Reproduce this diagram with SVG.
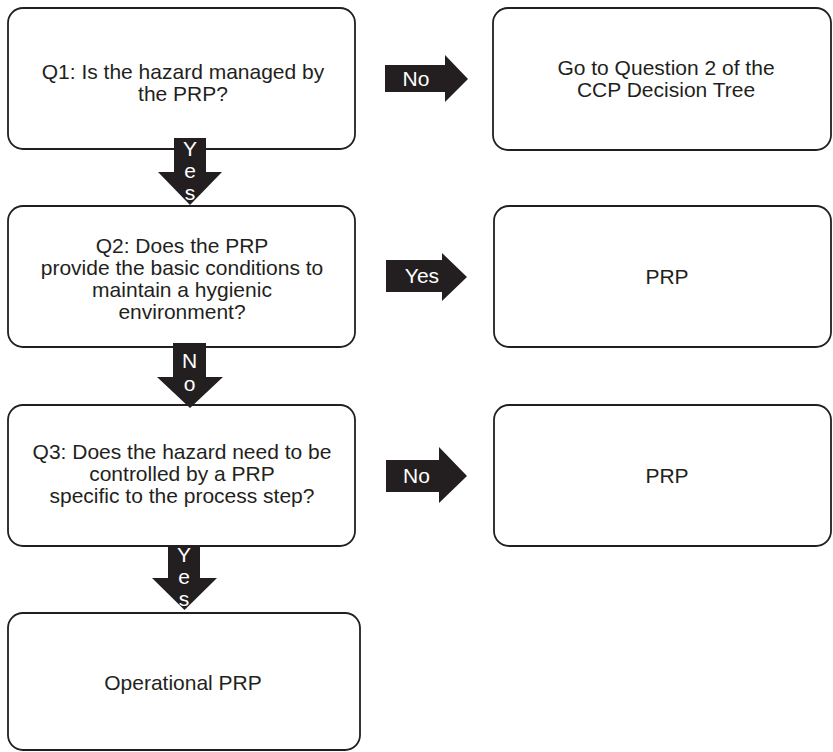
<svg xmlns="http://www.w3.org/2000/svg" width="833" height="752" viewBox="0 0 833 752">
  <style>
    .box { fill: #ffffff; stroke: #231f20; stroke-width: 1.8; }
    .txt { font-family: "Liberation Sans", Arial, sans-serif; font-size: 21px; fill: #231f20; text-anchor: middle; }
    .arrow { fill: #231f20; stroke: none; }
    .lbl { font-family: "Liberation Sans", Arial, sans-serif; font-size: 21px; fill: #ffffff; text-anchor: middle; }
  </style>
  <rect width="833" height="752" fill="#ffffff"/>

  <!-- Decision questions (left column) -->
  <g id="q1">
    <rect class="box" x="8" y="8" width="347" height="141" rx="15" ry="15"/>
    <text class="txt" x="183" y="79">Q1: Is the hazard managed by</text>
    <text class="txt" x="183" y="101">the PRP?</text>
  </g>
  <g id="q2">
    <rect class="box" x="8" y="206" width="347" height="141" rx="15" ry="15"/>
    <text class="txt" x="182" y="253">Q2: Does the PRP</text>
    <text class="txt" x="182" y="275">provide the basic conditions to</text>
    <text class="txt" x="182" y="297">maintain a hygienic</text>
    <text class="txt" x="182" y="319">environment?</text>
  </g>
  <g id="q3">
    <rect class="box" x="8" y="405" width="347" height="141" rx="15" ry="15"/>
    <text class="txt" x="182" y="459">Q3: Does the hazard need to be</text>
    <text class="txt" x="182" y="481">controlled by a PRP</text>
    <text class="txt" x="182" y="503">specific to the process step?</text>
  </g>
  <g id="oprp">
    <rect class="box" x="8" y="613" width="352" height="137" rx="15" ry="15"/>
    <text class="txt" x="183" y="690">Operational PRP</text>
  </g>

  <!-- Outcomes (right column) -->
  <g id="ccp">
    <rect class="box" x="493" y="8" width="338" height="142" rx="15" ry="15"/>
    <text class="txt" x="666" y="75">Go to Question 2 of the</text>
    <text class="txt" x="666" y="97">CCP Decision Tree</text>
  </g>
  <g id="prp1">
    <rect class="box" x="494" y="206" width="337" height="141" rx="15" ry="15"/>
    <text class="txt" x="667" y="284">PRP</text>
  </g>
  <g id="prp2">
    <rect class="box" x="494" y="405" width="337" height="141" rx="15" ry="15"/>
    <text class="txt" x="667" y="483">PRP</text>
  </g>

  <!-- Block arrows with their answers -->
  <g id="connectors">
    <g id="q1-yes">
      <polygon class="arrow" points="174,138 206,138 206,172 222,172 190,205 158,172 174,172"/>
      <text class="lbl" x="190" y="156">Y</text>
      <text class="lbl" x="190" y="178">e</text>
      <text class="lbl" x="190" y="200">s</text>
    </g>
    <g id="q1-no">
      <polygon class="arrow" points="385,65 445,65 445,55 468,79 445,102 445,92 385,92"/>
      <text class="lbl" x="416" y="86">No</text>
    </g>
    <g id="q2-no">
      <polygon class="arrow" points="173,343 206,343 206,377 223,377 190,408 157,377 173,377"/>
      <text class="lbl" x="189.5" y="368">N</text>
      <text class="lbl" x="189.5" y="391">o</text>
    </g>
    <g id="q2-yes">
      <polygon class="arrow" points="386,260 442,260 442,253 467,277 442,301 442,292 386,292"/>
      <text class="lbl" x="422" y="283">Yes</text>
    </g>
    <g id="q3-yes">
      <polygon class="arrow" points="168,545 200,545 200,578 217,578 184.5,610 152,578 168,578"/>
      <text class="lbl" x="184" y="562">Y</text>
      <text class="lbl" x="184" y="584">e</text>
      <text class="lbl" x="184" y="606">s</text>
    </g>
    <g id="q3-no">
      <polygon class="arrow" points="386,460 439,460 439,447 467,476 439,503 439,492 386,492"/>
      <text class="lbl" x="416.5" y="483">No</text>
    </g>
  </g>
</svg>
